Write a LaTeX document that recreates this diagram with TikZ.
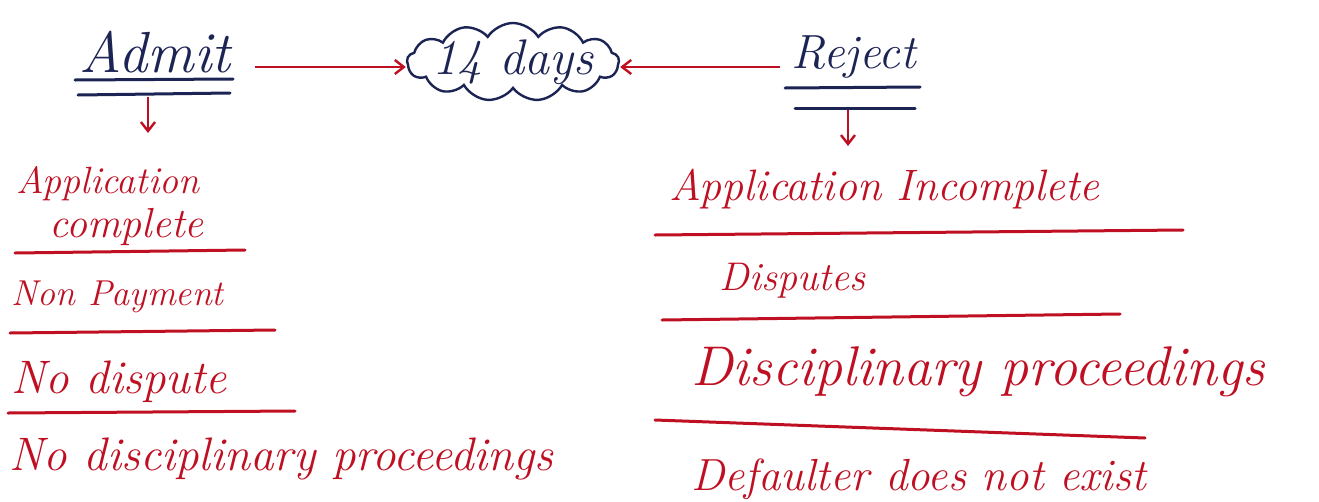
\documentclass[tikz,border=0pt]{standalone}
\usetikzlibrary{shapes.symbols,arrows.meta}
\definecolor{inkred}{RGB}{190,16,34}
\definecolor{inkblue}{RGB}{28,36,84}

\tikzset{every picture/.style={line width=3pt}}
\tikzset{
  hand/.style={font=\itshape\fontsize{#1}{#1}\selectfont, inner sep=0pt, anchor=base west},
  redtxt/.style={hand=#1, text=inkred},
  bluetxt/.style={hand=#1, text=inkblue},
  redline/.style={draw=inkred, line cap=round},
  blueline/.style={draw=inkblue, line cap=round},
  redarrow/.style={draw=inkred, -{Straight Barb[length=9pt,width=14pt]}, line width=2.4pt}
}

\begin{document}
\begin{tikzpicture}[x=1pt,y=1pt,yscale=-1,xscale=1]
\useasboundingbox (0,0) rectangle (1319,501);

%Text: Admit
\node[bluetxt=58] (admit) at (78,72) {Admit};
%Straight Lines (double bar under Admit)
\draw[blueline] (75,80) -- (233,79);
\draw[blueline] (78,95) -- (230,93);
\coordinate (admitbar) at (148,97);

%Shape: Cloud
\node[cloud, cloud puffs=13, cloud puff arc=115, draw=inkblue, line width=2.4pt, minimum width=212pt, minimum height=78pt, inner sep=0pt] (cloud) at (513,62) {};
\node[bluetxt=50, anchor=center] (days) at (cloud.center) {14 days};

%Text: Reject
\node[bluetxt=48] (reject) at (790,68) {Reject};
%Straight Lines (double bar under Reject)
\draw[blueline] (785,88) -- (920,87);
\draw[blueline] (795,108) -- (915,108);
\coordinate (rejectbar) at (848,110);

%Arrows into the cloud
\coordinate (admitout) at (255,67);
\coordinate (rejectout) at (780,67);
\draw[redarrow] (admitout) -- (admitout -| cloud.west);
\draw[redarrow] (rejectout) -- (rejectout -| cloud.east);

%Left column
\node[redtxt=38] (appl) at (15,193) {Application};
\node[redtxt=42] (appc) at (48,237) {complete};
\draw[redarrow] (admitbar) -- ++(0,36);
\draw[redline] (15,253) -- (245,250);
\node[redtxt=36] (npay) at (10,305) {Non Payment};
\draw[redline] (10,333) -- (275,330);
\node[redtxt=47] (nodisp) at (10,393) {No dispute};
\draw[redline] (8,413) -- (295,411);
\node[redtxt=47] (nodisc) at (8,470) {No disciplinary proceedings};

%Right column
\draw[redarrow] (rejectbar) -- ++(0,36);
\node[redtxt=44] (appi) at (668,200) {Application Incomplete};
\draw[redline] (655,235) -- (1183,230);
\node[redtxt=40] (disp) at (718,290) {Disputes};
\draw[redline] (662,320) -- (1120,314);
\node[redtxt=56] (disc) at (690,385) {Disciplinary proceedings};
\draw[redline] (655,420) -- (1145,438);
\node[redtxt=45] (deflt) at (690,490) {Defaulter does not exist};

\end{tikzpicture}
\end{document}
